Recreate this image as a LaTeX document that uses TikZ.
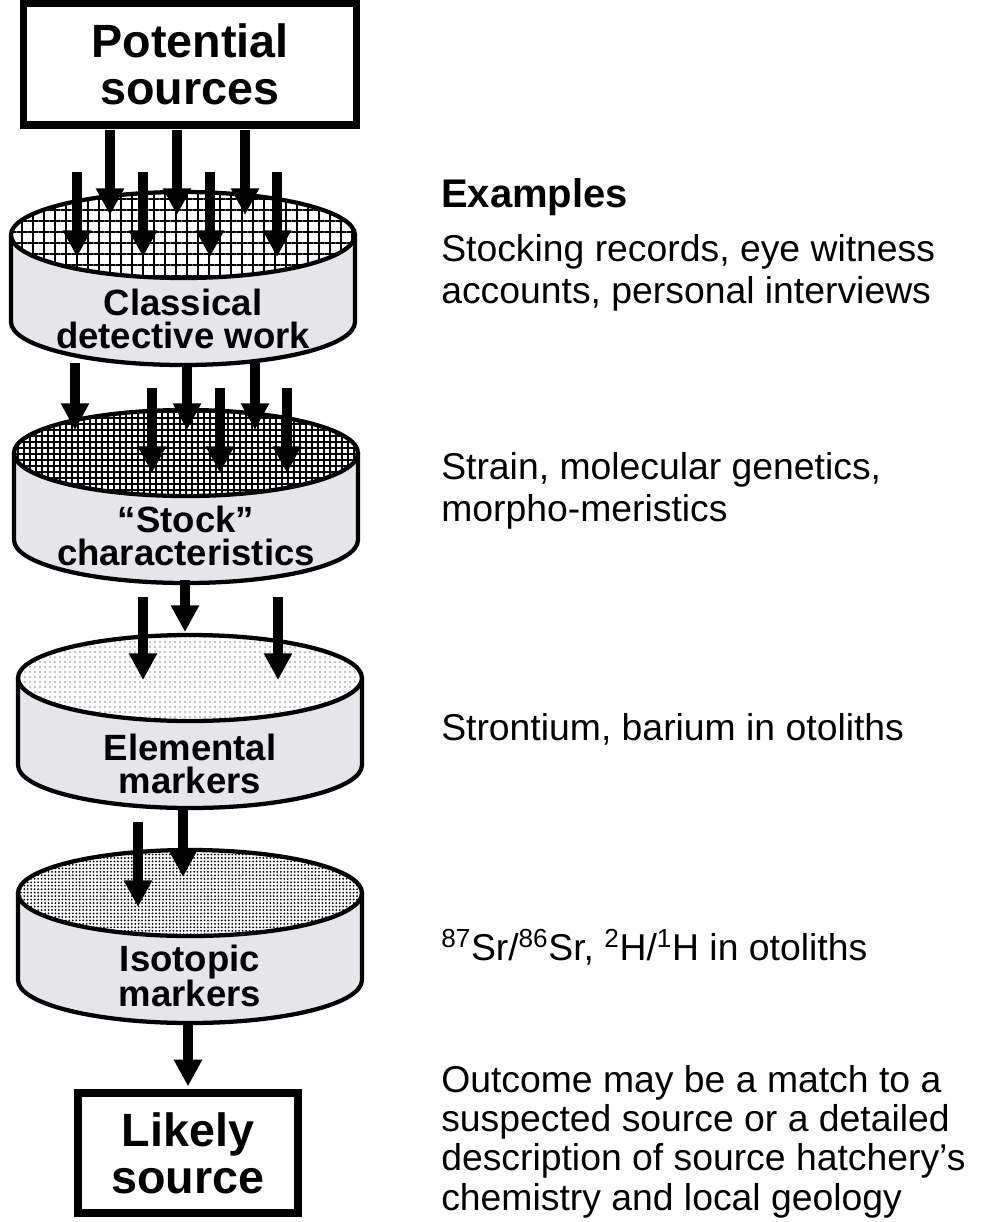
\documentclass[tikz,border=0pt]{standalone}
\usepackage{fontspec}
\setmainfont{Liberation Sans}
\usetikzlibrary{arrows.meta,patterns.meta}
\definecolor{sidegray}{HTML}{E6E6EA}
\newcommand{\drawsieve}[2]{%
  \fill[sidegray] ([shift={(-172,0)}]#1) -- ++(0,87)
    arc[start angle=180,end angle=0,x radius=172,y radius=43] -- ++(0,-87) -- cycle;
  \draw[sieveline] ([shift={(-172,0)}]#1) -- ++(0,87)
    arc[start angle=180,end angle=0,x radius=172,y radius=43] -- ++(0,-87);
  \fill[white] (#1) ellipse[x radius=172,y radius=43];
  \path[#2] (#1) ellipse[x radius=172,y radius=43];
  \draw[sieveline] (#1) ellipse[x radius=172,y radius=43];
}

\begin{document}
\begin{tikzpicture}[x=0.75pt,y=-0.75pt,
    sieveline/.style={line width=3.2pt},
    endbox/.style={draw,line width=5.5pt,align=center,inner sep=0pt,
      font=\fontsize{35}{35}\selectfont\bfseries},
    sievelabel/.style={align=center,inner sep=0pt,
      font=\fontsize{27.4}{24.5}\selectfont\bfseries},
    note/.style={anchor=base west,align=left,inner sep=0pt,
      font=\fontsize{28}{31.5}\selectfont},
    flow/.style={line width=7.5pt,-{Triangle[width=20pt,length=20pt]}}]
  \useasboundingbox (0,0) rectangle (981,1222);

  \node[endbox,minimum width=250pt,minimum height=91.5pt] (sourcesbox) at (190,64) {Potential\\sources};

  % the four sieves
  \coordinate (detectivetop) at (183,235);
  \coordinate (stocktop) at (186,453);
  \coordinate (elementtop) at (190,678);
  \coordinate (isotopetop) at (190,893);
  \drawsieve{detectivetop}{pattern={Hatch[distance=8.25pt,line width=1.1pt]}}
  \drawsieve{stocktop}{pattern={Hatch[distance=4.5pt,line width=1.3pt]}}
  \drawsieve{elementtop}{pattern={Dots[distance=3.75pt,radius=0.55pt]}}
  \drawsieve{isotopetop}{pattern={Dots[distance=2.6pt,radius=0.75pt]}}
  \node[sievelabel] (detectivelabel) at ([shift={(0,84)}]detectivetop) {Classical\\detective work};
  \node[sievelabel] (stocklabel) at ([shift={(0,83)}]stocktop) {“Stock”\\characteristics};
  \node[sievelabel] (elementlabel) at ([shift={(0,86)}]elementtop) {Elemental\\markers};
  \node[sievelabel] (isotopelabel) at ([shift={(0,83)}]isotopetop) {Isotopic\\markers};

  \node[endbox,minimum width=165pt,minimum height=90pt] (likelybox) at (188,1153) {Likely\\source};

  % arrows through the sieves
  \foreach \dx in {-73,-6,62}
    \draw[flow] ([shift={(\dx,-105)}]detectivetop) -- ([shift={(\dx,-20)}]detectivetop);
  \foreach \dx in {-106,-40,27,94}
    \draw[flow] ([shift={(\dx,-63)}]detectivetop) -- ([shift={(\dx,22)}]detectivetop);
  \foreach \dx in {-111,1,69}
    \draw[flow] ([shift={(\dx,-90)}]stocktop) -- ([shift={(\dx,-23)}]stocktop);
  \foreach \dx in {-34,34,101}
    \draw[flow] ([shift={(\dx,-65)}]stocktop) -- ([shift={(\dx,20)}]stocktop);
  \draw[flow] ([shift={(-5,-98)}]elementtop) -- ([shift={(-5,-46)}]elementtop);
  \foreach \dx in {-47,88}
    \draw[flow] ([shift={(\dx,-81)}]elementtop) -- ([shift={(\dx,2)}]elementtop);
  \draw[flow] ([shift={(-7,-85)}]isotopetop) -- ([shift={(-7,-16)}]isotopetop);
  \draw[flow] ([shift={(-52,-71)}]isotopetop) -- ([shift={(-52,14)}]isotopetop);
  \draw[flow] ([shift={(-2,132)}]isotopetop) -- ([shift={(0,-3)}]likelybox.north);

  % examples column
  \node[note,font=\fontsize{30}{31.5}\selectfont\bfseries] (exhead) at (441,207) {Examples};
  \node[note] (exdetective) at (441,303) {Stocking records, eye witness\\accounts, personal interviews};
  \node[note] (exstock) at (441,521) {Strain, molecular genetics,\\morpho-meristics};
  \node[note] (exelement) at (441,740) {Strontium, barium in otoliths};
  \node[note] (exisotope) at (441,960) {\textsuperscript{87}Sr/\textsuperscript{86}Sr, \textsuperscript{2}H/\textsuperscript{1}H in otoliths};
  \node[note,font=\fontsize{28}{29.5}\selectfont] (exoutcome) at (441,1210) {Outcome may be a match to a\\suspected source or a detailed\\description of source hatchery’s\\chemistry and local geology};
\end{tikzpicture}
\end{document}
